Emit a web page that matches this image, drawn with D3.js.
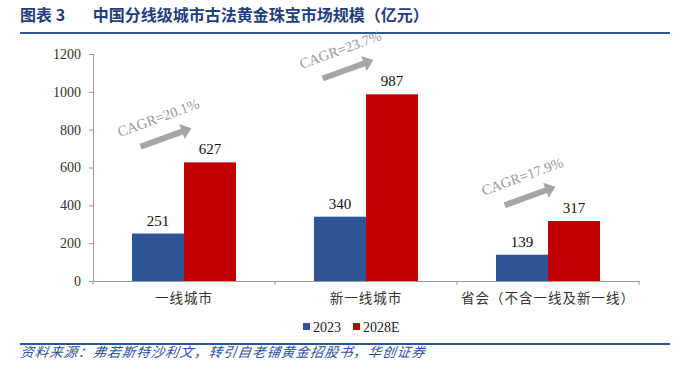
<!DOCTYPE html>
<html>
<head>
<meta charset="utf-8">
<script src="https://cdn.jsdelivr.net/npm/d3@7"></script>
<style>
  body { margin: 0; background: #fff; }
  svg { font-family: "Liberation Serif", "Times New Roman", serif; }
  .cjk { font-family: "Noto Sans CJK SC", sans-serif; }
</style>
</head>
<body>
<div id="main"></div>
<script>
// data
const categories = ['一线城市', '新一线城市', '省会（不含一线及新一线）'];
const seriesNames = ['2023', '2028E'];
const values2023 = [251, 340, 139];
const values2028 = [627, 987, 317];
const cagrLabels = ['CAGR=20.1%', 'CAGR=23.7%', 'CAGR=17.9%'];
const yTicks = [0, 200, 400, 600, 800, 1000, 1200];

const colors = {'2023': '#2F5597', '2028E': '#C00000'};
const blueLine = '#2E5597';
const W = 680, H = 374;

const svg = d3.select('#main').append('svg')
  .attr('width', W).attr('height', H);

// title + rules
svg.append('text')
  .attr('class', 'cjk')
  .attr('x', 20).attr('y', 21)
  .attr('font-size', 16).attr('font-weight', 'bold')
  .attr('fill', '#1F3F7A')
  .text('图表 3\u2003 \u2002中国分线级城市古法黄金珠宝市场规模（亿元）');

svg.append('line')
  .attr('x1', 20).attr('x2', 670).attr('y1', 33).attr('y2', 33)
  .attr('stroke', blueLine).attr('stroke-width', 2);
svg.append('line')
  .attr('x1', 20).attr('x2', 670).attr('y1', 344).attr('y2', 344)
  .attr('stroke', blueLine).attr('stroke-width', 2);

svg.append('text')
  .attr('class', 'cjk')
  .attr('x', 21).attr('y', 357)
  .attr('font-size', 13.5).attr('font-style', 'italic')
  .attr('letter-spacing', 1)
  .attr('fill', '#2E5597')
  .attr('transform', 'skewX(-8) translate(49,0)')
  .text('资料来源：弗若斯特沙利文，转引自老铺黄金招股书，华创证券');

// scales
const x0 = d3.scaleBand().domain(categories).range([93, 639]).padding(0);
const x1 = d3.scaleBand().domain(seriesNames)
  .range([39, x0.bandwidth() - 39]).padding(0);
const y = d3.scaleLinear().domain([0, 1200]).range([281, 54]);

const rows = categories.map((c, i) => ({
  cat: c,
  vals: [
    {key: '2023', v: values2023[i]},
    {key: '2028E', v: values2028[i]}
  ],
  cagr: cagrLabels[i]
}));

// y axis
const yAxis = svg.append('g')
  .attr('transform', 'translate(93,0)')
  .call(d3.axisLeft(y).tickValues(yTicks).tickFormat(d3.format('d'))
    .tickSize(4).tickPadding(8));
yAxis.select('.domain').attr('stroke', '#999');
yAxis.selectAll('.tick line').attr('stroke', '#999');
yAxis.selectAll('.tick text')
  .attr('font-family', '"Liberation Serif", serif')
  .attr('font-size', 14).attr('fill', '#333');

// bars
const groups = svg.selectAll('g.grp').data(rows).join('g')
  .attr('class', 'grp')
  .attr('transform', d => `translate(${x0(d.cat)},0)`);

groups.selectAll('rect').data(d => d.vals).join('rect')
  .attr('x', d => x1(d.key))
  .attr('width', x1.bandwidth())
  .attr('y', d => y(d.v))
  .attr('height', d => y(0) - y(d.v))
  .attr('fill', d => colors[d.key]);

groups.selectAll('text.val').data(d => d.vals).join('text')
  .attr('class', 'val')
  .attr('x', d => x1(d.key) + x1.bandwidth() / 2)
  .attr('y', d => y(d.v) - 8)
  .attr('text-anchor', 'middle')
  .attr('font-size', 15).attr('fill', '#111')
  .text(d => d.v);

// x axis
const xAxis = svg.append('g')
  .attr('transform', 'translate(0,281)')
  .call(d3.axisBottom(x0).tickSize(0).tickPadding(12));
xAxis.select('.domain').attr('stroke', '#999');
xAxis.selectAll('.tick text')
  .attr('class', 'cjk')
  .attr('font-size', 13.5).attr('fill', '#333')
  .attr('letter-spacing', 1);
// boundary ticks between categories
svg.append('g').selectAll('line')
  .data(categories.map(c => x0(c)).concat([x0.range()[1]]))
  .join('line')
  .attr('x1', d => d).attr('x2', d => d)
  .attr('y1', 281).attr('y2', 285)
  .attr('stroke', '#999');

// CAGR arrows
const arrowPath = 'M-27,-3 L17,-3 L17,-8 L27,0 L17,8 L17,3 L-27,3 Z';
const ann = groups.append('g')
  .attr('transform', d => `translate(${x0.bandwidth() / 2 - 18},${y(d.vals[1].v) - 25})`);
ann.append('path')
  .attr('d', arrowPath)
  .attr('fill', '#A6A6A6')
  .attr('transform', 'rotate(-20)');
ann.append('text')
  .attr('text-anchor', 'middle')
  .attr('font-size', 14.5).attr('fill', '#999')
  .attr('transform', 'translate(-6,-15) rotate(-20)')
  .text(d => d.cagr);

// legend
const legend = svg.append('g').attr('transform', 'translate(303,327)');
const li = legend.selectAll('g').data(seriesNames).join('g')
  .attr('transform', (d, i) => `translate(${i * 50},0)`);
li.append('rect')
  .attr('x', 0).attr('y', -4).attr('width', 7).attr('height', 7)
  .attr('fill', d => colors[d]);
li.append('text')
  .attr('x', 10).attr('y', 5)
  .attr('font-size', 14).attr('fill', '#222')
  .text(d => d);
</script>
</body>
</html>
